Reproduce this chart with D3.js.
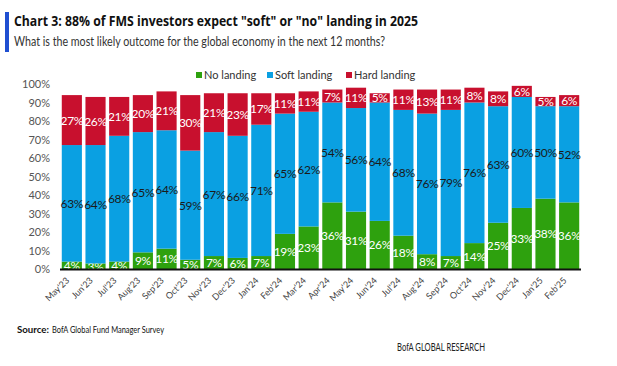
<!DOCTYPE html>
<html>
<head>
<meta charset="utf-8">
<script src="https://cdn.jsdelivr.net/npm/d3@7"></script>
<style>
  body { margin: 0; background: #fff; }
  svg { font-family: "Open Sans", Lato, sans-serif; }
</style>
</head>
<body>
<div id="chart"></div>
<script>
const months = ["May'23","Jun'23","Jul'23","Aug'23","Sep'23","Oct'23","Nov'23","Dec'23","Jan'24","Feb'24","Mar'24","Apr'24","May'24","Jun'24","Jul'24","Aug'24","Sep'24","Oct'24","Nov'24","Dec'24","Jan'25","Feb'25"];
const noLanding   = [4,3,4,9,11,5,7,6,7,19,23,36,31,26,18,8,7,14,25,33,38,36];
const softLanding = [63,64,68,65,64,59,67,66,71,65,62,54,56,64,68,76,79,76,63,60,50,52];
const hardLanding = [27,26,21,20,21,30,21,23,17,11,11,7,11,5,11,13,11,8,8,6,5,6];
const seriesNames = ["No landing","Soft landing","Hard landing"];
const yTicks = [0,10,20,30,40,50,60,70,80,90,100];

const W = 617, H = 366;
const colors = {"No landing":"#2ea10e","Soft landing":"#0aa0e2","Hard landing":"#c8102e"};
const labelColors = {"No landing":"#fff","Soft landing":"#1a1a1a","Hard landing":"#fff"};

const svg = d3.select("#chart").append("svg")
    .attr("width", W)
    .attr("height", H);

// title block
svg.append("rect").attr("x",5).attr("y",12).attr("width",4).attr("height",40).attr("fill","#1f4fd1");
svg.append("text").attr("x",14).attr("y",26)
    .attr("font-size","15px").attr("font-weight","bold").attr("fill","#111")
    .attr("textLength",404).attr("lengthAdjust","spacingAndGlyphs")
    .text('Chart 3: 88% of FMS investors expect "soft" or "no" landing in 2025');
svg.append("text").attr("x",14).attr("y",46)
    .attr("font-family","Lato, sans-serif")
    .attr("font-size","13px").attr("fill","#333")
    .attr("textLength",371).attr("lengthAdjust","spacingAndGlyphs")
    .text("What is the most likely outcome for the global economy in the next 12 months?");

const data = months.map((m,i) => ({month:m, "No landing":noLanding[i], "Soft landing":softLanding[i], "Hard landing":hardLanding[i]}));
const stacked = d3.stack().keys(seriesNames)(data);

const x = d3.scaleBand().domain(months).range([60,581]).paddingInner(0.15).paddingOuter(0.075);
const y = d3.scaleLinear().domain([0,100]).range([269,84]);

// y axis labels
svg.append("g").selectAll("text").data(yTicks).enter().append("text")
    .attr("x",50).attr("y",d => y(d)+4)
    .attr("text-anchor","end")
    .attr("font-family","Lato, sans-serif")
    .attr("font-size","11px").attr("fill","#555")
    .text(d => d + "%");

const layers = svg.append("g").selectAll("g").data(stacked).enter().append("g")
    .attr("fill", d => colors[d.key]);

layers.selectAll("rect").data(d => d).enter().append("rect")
    .attr("x", d => x(d.data.month))
    .attr("y", d => y(d[1]))
    .attr("width", x.bandwidth())
    .attr("height", d => y(d[0]) - y(d[1]));

layers.each(function(s){
    d3.select(this).selectAll("text").data(s).enter().append("text")
        .attr("x", d => x(d.data.month) + x.bandwidth()/2)
        .attr("y", d => (y(d[0]) + y(d[1]))/2 + 4.5)
        .attr("text-anchor","middle")
        .attr("font-family","Lato, sans-serif")
        .attr("font-size","12px")
        .attr("letter-spacing","-0.3px")
        .attr("fill", labelColors[s.key])
        .text(d => d.data[s.key] + "%");
});

// baseline axis
svg.append("line").attr("x1",60).attr("x2",581).attr("y1",269.5).attr("y2",269.5)
    .attr("stroke","#111").attr("stroke-width",2);

// x labels
svg.append("g").selectAll("text").data(months).enter().append("text")
    .attr("transform", d => "translate(" + (x(d) + x.bandwidth()/2 - 2) + ",281) rotate(-45)")
    .attr("text-anchor","end")
    .attr("font-family","Lato, sans-serif")
    .attr("font-size","9px").attr("fill","#444")
    .text(d => d);

// legend
const legendX = [196, 267, 346];
const legend = svg.append("g").selectAll("g").data(seriesNames).enter().append("g")
    .attr("transform", (d,i) => "translate(" + legendX[i] + ",75)");
legend.append("rect").attr("x",0).attr("y",-3).attr("width",6).attr("height",6)
    .attr("fill", d => colors[d]);
legend.append("text").attr("x",8).attr("y",4)
    .attr("font-family","Lato, sans-serif")
    .attr("font-size","11px").attr("fill","#333")
    .text(d => d);

// footer
svg.append("text").attr("x",17).attr("y",333)
    .attr("font-family","Lato, sans-serif")
    .attr("font-size","10px").attr("font-weight","bold").attr("fill","#111")
    .attr("textLength",32).attr("lengthAdjust","spacingAndGlyphs")
    .text("Source:");
svg.append("text").attr("x",52).attr("y",333)
    .attr("font-family","Lato, sans-serif")
    .attr("font-size","10px").attr("fill","#111")
    .attr("textLength",112).attr("lengthAdjust","spacingAndGlyphs")
    .text("BofA Global Fund Manager Survey");
svg.append("text").attr("x",397).attr("y",351)
    .attr("font-family","Lato, sans-serif")
    .attr("font-size","10.5px").attr("fill","#222")
    .attr("textLength",88).attr("lengthAdjust","spacingAndGlyphs")
    .text("BofA GLOBAL RESEARCH");
</script>
</body>
</html>
